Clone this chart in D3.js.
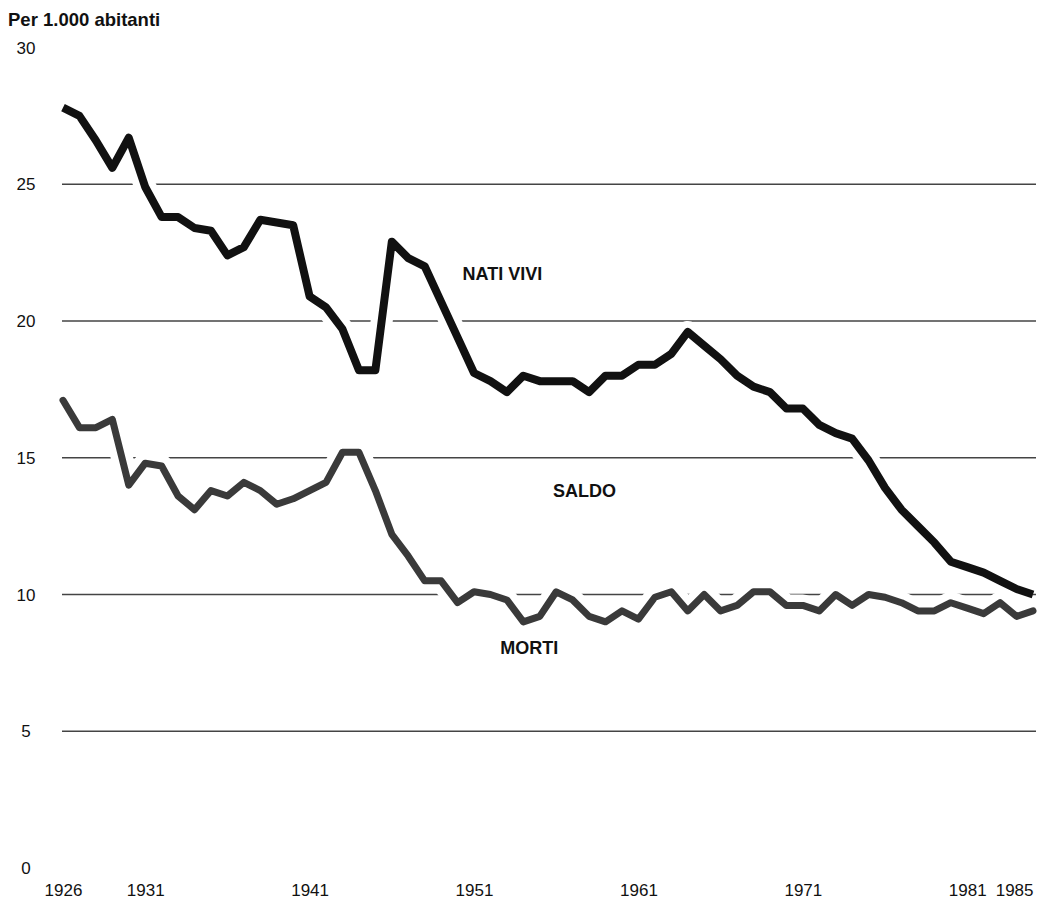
<!DOCTYPE html>
<html>
<head>
<meta charset="utf-8">
<script src="https://cdn.jsdelivr.net/npm/d3@7"></script>
<style>
  body { margin: 0; background: #fff; }
  svg { display: block; font-family: "Liberation Sans", Arial, Helvetica, sans-serif; }
</style>
</head>
<body>
<div id="chart"></div>
<script>
// Anni (asse x)
const years = [
  1926, 1927, 1928, 1929, 1930, 1931, 1932, 1933, 1934, 1935,
  1936, 1937, 1938, 1939, 1940, 1941, 1942, 1943, 1944, 1945,
  1946, 1947, 1948, 1949, 1950, 1951, 1952, 1953, 1954, 1955,
  1956, 1957, 1958, 1959, 1960, 1961, 1962, 1963, 1964, 1965,
  1966, 1967, 1968, 1969, 1970, 1971, 1972, 1973, 1974, 1975,
  1976, 1977, 1978, 1979, 1980, 1981, 1982, 1983, 1984, 1985
];

// Nati vivi per 1.000 abitanti
const natiVivi = [
  27.8, 27.5, 26.6, 25.6, 26.7, 24.9, 23.8, 23.8, 23.4, 23.3,
  22.4, 22.7, 23.7, 23.6, 23.5, 20.9, 20.5, 19.7, 18.2, 18.2,
  22.9, 22.3, 22.0, 20.7, 19.4, 18.1, 17.8, 17.4, 18.0, 17.8,
  17.8, 17.8, 17.4, 18.0, 18.0, 18.4, 18.4, 18.8, 19.6, 19.1,
  18.6, 18.0, 17.6, 17.4, 16.8, 16.8, 16.2, 15.9, 15.7, 14.9,
  13.9, 13.1, 12.5, 11.9, 11.2, 11.0, 10.8, 10.5, 10.2, 10.0
];

// Morti per 1.000 abitanti
const morti = [
  17.1, 16.1, 16.1, 16.4, 14.0, 14.8, 14.7, 13.6, 13.1, 13.8,
  13.6, 14.1, 13.8, 13.3, 13.5, 13.8, 14.1, 15.2, 15.2, 13.8,
  12.2, 11.4, 10.5, 10.5, 9.7, 10.1, 10.0, 9.8, 9.0, 9.2,
  10.1, 9.8, 9.2, 9.0, 9.4, 9.1, 9.9, 10.1, 9.4, 10.0,
  9.4, 9.6, 10.1, 10.1, 9.6, 9.6, 9.4, 10.0, 9.6, 10.0,
  9.9, 9.7, 9.4, 9.4, 9.7, 9.5, 9.3, 9.7, 9.2, 9.4
];

// Etichette degli assi
const yTicks = [0, 5, 10, 15, 20, 25, 30];
const gridValues = [5, 10, 15, 20, 25];
const xTickLabels = [1926, 1931, 1941, 1951, 1961, 1971, 1981, 1985];

// Etichette delle serie (posizione in coordinate dei dati)
const seriesLabels = [
  { text: "NATI VIVI", year: 1950.3, value: 21.5 },
  { text: "SALDO", year: 1955.8, value: 13.56 },
  { text: "MORTI", year: 1952.6, value: 7.82 }
];

const width = 1057;
const height = 899;

const svg = d3.select("#chart")
  .append("svg")
  .attr("width", width)
  .attr("height", height);

const x = d3.scaleLinear().domain([1926, 1985]).range([63, 1033]);
const y = d3.scaleLinear().domain([0, 30]).range([868, 47.5]);

// Titolo asse y
svg.append("text")
  .attr("x", 8)
  .attr("y", 26)
  .attr("font-size", "18.5px")
  .attr("font-weight", "bold")
  .attr("fill", "#111")
  .text("Per 1.000 abitanti");

// Linee di griglia
svg.selectAll(".grid")
  .data(gridValues)
  .enter()
  .append("line")
  .attr("class", "grid")
  .attr("x1", 62)
  .attr("x2", 1036)
  .attr("y1", d => y(d))
  .attr("y2", d => y(d))
  .attr("stroke", "#444")
  .attr("stroke-width", 1.3);

// Etichette asse y
svg.selectAll(".ylab")
  .data(yTicks)
  .enter()
  .append("text")
  .attr("class", "ylab")
  .attr("x", 26)
  .attr("y", d => y(d))
  .attr("dy", "0.36em")
  .attr("text-anchor", "middle")
  .attr("font-size", "17px")
  .attr("fill", "#111")
  .text(d => d);

// Asse x (solo etichette)
const xAxis = d3.axisBottom(x)
  .tickValues(xTickLabels)
  .tickFormat(d3.format("d"))
  .tickSize(0);

const gx = svg.append("g")
  .attr("transform", "translate(0,880)")
  .call(xAxis);
gx.select(".domain").remove();
gx.selectAll("text")
  .attr("font-size", "17px")
  .attr("font-family", "Liberation Sans, Arial, sans-serif")
  .attr("fill", "#111")
  .attr("dy", "0")
  .attr("y", 16)
  .attr("text-anchor", d => d === 1985 ? "end" : "middle");

const line = d3.line()
  .x((d, i) => x(years[i]))
  .y(d => y(d));

// Alone bianco che interrompe la griglia dove passano le curve
[natiVivi, morti].forEach(series => {
  svg.append("path")
    .datum(series)
    .attr("d", line)
    .attr("fill", "none")
    .attr("stroke", "#fff")
    .attr("stroke-width", 22)
    .attr("stroke-linejoin", "round");
});

// Curva dei morti
svg.append("path")
  .datum(morti)
  .attr("d", line)
  .attr("fill", "none")
  .attr("stroke", "#3a3a3a")
  .attr("stroke-width", 7)
  .attr("stroke-linejoin", "round")
  .attr("stroke-linecap", "round");

// Curva dei nati vivi
svg.append("path")
  .datum(natiVivi)
  .attr("d", line)
  .attr("fill", "none")
  .attr("stroke", "#111")
  .attr("stroke-width", 8)
  .attr("stroke-linejoin", "round")
  .attr("stroke-linecap", "butt");

// Etichette delle serie
svg.selectAll(".slab")
  .data(seriesLabels)
  .enter()
  .append("text")
  .attr("class", "slab")
  .attr("x", d => x(d.year))
  .attr("y", d => y(d.value))
  .attr("font-size", "18px")
  .attr("font-weight", "bold")
  .attr("fill", "#111")
  .text(d => d.text);
</script>
</body>
</html>
